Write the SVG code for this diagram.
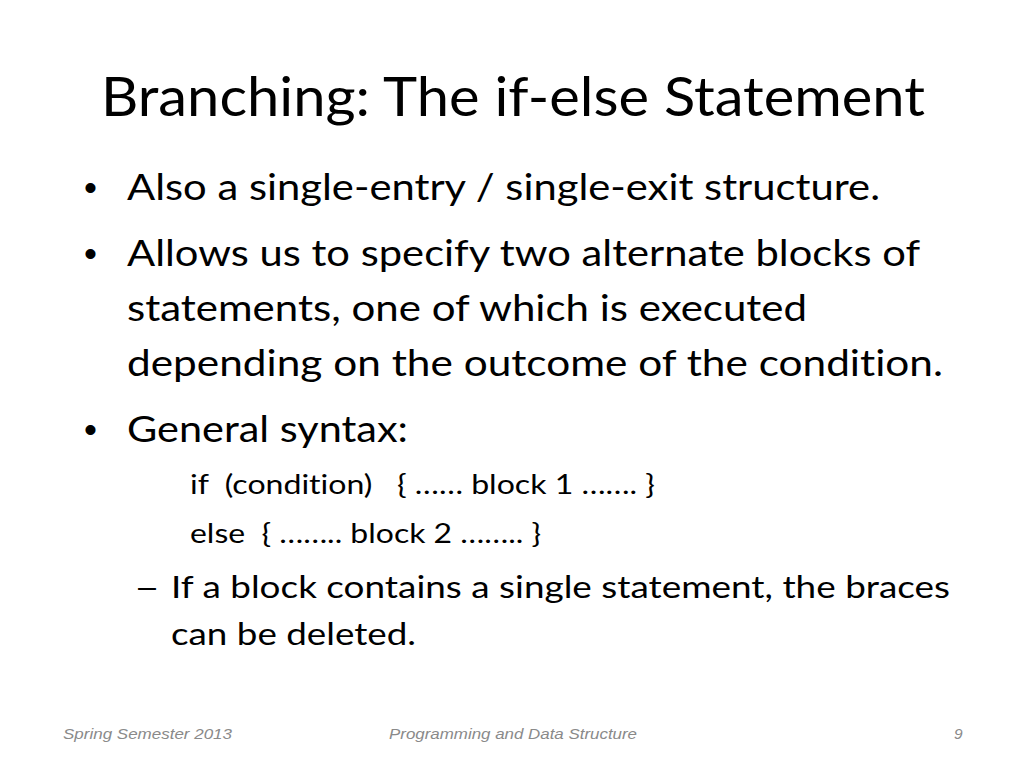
<svg xmlns="http://www.w3.org/2000/svg" width="1024" height="768" viewBox="0 0 1024 768">
<style>
.t{font-family:Lato,"Open Sans","Liberation Sans",sans-serif;fill:#000;font-variant-ligatures:none;font-feature-settings:"liga" 0,"clig" 0}
.title{font-size:54px}
.b{font-size:37px}
.code{font-size:26px}
.sub{font-size:31.5px}
.dot{font-family:"Liberation Sans",Arial,sans-serif;font-size:37px;fill:#000}
.foot{font-family:"Liberation Sans",Arial,sans-serif;font-style:italic;font-size:15.5px;fill:#8a8a8a}
</style>
<rect width="1024" height="768" fill="#fff"/>
<g id="title">
<text class="t title" x="101" y="116" textLength="824" lengthAdjust="spacingAndGlyphs">Branching: The if-else Statement</text>
</g>
<g id="body">
<text class="dot" x="84" y="200">•</text>
<text class="t b" x="127" y="200" textLength="753" lengthAdjust="spacingAndGlyphs">Also a single-entry / single-exit structure.</text>
<text class="dot" x="84" y="266">•</text>
<text class="t b" x="127" y="266" textLength="793" lengthAdjust="spacingAndGlyphs">Allows us to specify two alternate blocks of</text>
<text class="t b" x="127" y="321" textLength="680" lengthAdjust="spacingAndGlyphs">statements, one of which is executed</text>
<text class="t b" x="127" y="376" textLength="816" lengthAdjust="spacingAndGlyphs">depending on the outcome of the condition.</text>
<text class="dot" x="84" y="442">•</text>
<text class="t b" x="127" y="442" textLength="281" lengthAdjust="spacingAndGlyphs">General syntax:</text>
<text class="t code" x="190" y="494" textLength="465" lengthAdjust="spacingAndGlyphs" xml:space="preserve">if  (condition)   { …… block 1 ……. }</text>
<text class="t code" x="190" y="543" textLength="351" lengthAdjust="spacingAndGlyphs" xml:space="preserve">else  { …….. block 2 …….. }</text>
<text class="t sub" x="134" y="598" textLength="26" lengthAdjust="spacingAndGlyphs">–</text>
<text class="t sub" x="171" y="598" textLength="779" lengthAdjust="spacingAndGlyphs">If a block contains a single statement, the braces</text>
<text class="t sub" x="171" y="645" textLength="245" lengthAdjust="spacingAndGlyphs">can be deleted.</text>
</g>
<g id="footer">
<text class="foot" x="63" y="739" textLength="169" lengthAdjust="spacingAndGlyphs">Spring Semester 2013</text>
<text class="foot" x="389" y="739" textLength="248" lengthAdjust="spacingAndGlyphs">Programming and Data Structure</text>
<text class="foot" x="954" y="739">9</text>
</g>
</svg>
